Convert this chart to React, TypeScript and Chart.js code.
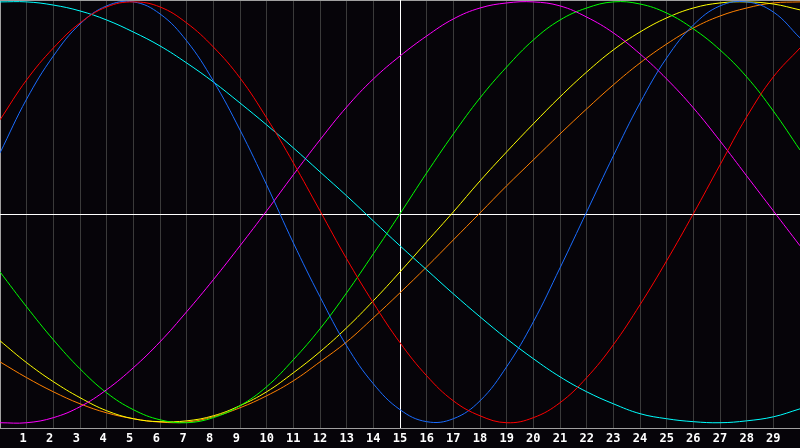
import React, { useEffect, useRef } from "react";
import { Chart, registerables } from "chart.js";

Chart.register(...registerables);

// x positions (0 .. 30)
const xValues = [0, 1, 2, 3, 4, 5, 6, 7, 8, 9, 10, 11, 12, 13, 14, 15, 16, 17, 18, 19, 20, 21, 22, 23, 24, 25, 26, 27, 28, 29, 30];

// tick labels shown under grid lines 1..29
const tickLabels = ["1 ", "2 ", "3 ", "4 ", "5 ", "6 ", "7 ", "8 ", "9 ", "10", "11", "12", "13", "14", "15", "16", "17", "18", "19", "20", "21", "22", "23", "24", "25", "26", "27", "28", "29"];

const redValues = [0.438, 0.628, 0.779, 0.898, 0.974, 0.998, 0.974, 0.898, 0.784, 0.637, 0.447, 0.234, 0.006, -0.222, -0.431, -0.62, -0.777, -0.896, -0.967, -1.0, -0.976, -0.905, -0.786, -0.63, -0.44, -0.231, -0.008, 0.224, 0.452, 0.642, 0.779];
const blueValues = [0.281, 0.537, 0.741, 0.893, 0.979, 0.998, 0.941, 0.813, 0.623, 0.39, 0.129, -0.146, -0.402, -0.635, -0.815, -0.938, -0.995, -0.981, -0.896, -0.734, -0.521, -0.265, 0.001, 0.267, 0.518, 0.732, 0.888, 0.979, 0.998, 0.95, 0.827];
const cyanValues = [0.998, 0.998, 0.983, 0.955, 0.912, 0.855, 0.789, 0.708, 0.618, 0.518, 0.414, 0.305, 0.191, 0.077, -0.042, -0.16, -0.274, -0.388, -0.497, -0.601, -0.696, -0.782, -0.853, -0.91, -0.957, -0.981, -0.995, -1.0, -0.991, -0.972, -0.934];
const magentaValues = [-1.0, -1.0, -0.976, -0.924, -0.843, -0.739, -0.616, -0.473, -0.321, -0.16, 0.006, 0.177, 0.343, 0.499, 0.632, 0.741, 0.836, 0.917, 0.969, 0.993, 0.998, 0.979, 0.926, 0.851, 0.751, 0.632, 0.495, 0.338, 0.172, 0.006, -0.16];
const greenValues = [-0.284, -0.45, -0.606, -0.744, -0.858, -0.938, -0.986, -1.0, -0.976, -0.919, -0.829, -0.701, -0.554, -0.383, -0.198, -0.008, 0.186, 0.371, 0.542, 0.689, 0.817, 0.912, 0.969, 0.998, 0.988, 0.945, 0.87, 0.77, 0.642, 0.48, 0.295];
const yellowValues = [-0.611, -0.715, -0.805, -0.881, -0.943, -0.981, -0.995, -0.991, -0.967, -0.919, -0.853, -0.763, -0.663, -0.549, -0.421, -0.284, -0.141, 0.001, 0.148, 0.286, 0.419, 0.547, 0.665, 0.77, 0.855, 0.922, 0.969, 0.993, 0.998, 0.988, 0.96];
const orangeValues = [-0.711, -0.786, -0.853, -0.91, -0.953, -0.981, -0.997, -0.997, -0.972, -0.929, -0.872, -0.801, -0.711, -0.616, -0.502, -0.383, -0.26, -0.132, -0.004, 0.125, 0.248, 0.371, 0.49, 0.604, 0.708, 0.798, 0.874, 0.931, 0.969, 0.993, 0.998];

const seriesList = [
  { name: "red", values: redValues, color: "#ff0000" },
  { name: "blue", values: blueValues, color: "#1a6cff" },
  { name: "cyan", values: cyanValues, color: "#00ffff" },
  { name: "magenta", values: magentaValues, color: "#ff00ff" },
  { name: "green", values: greenValues, color: "#00ff00" },
  { name: "yellow", values: yellowValues, color: "#ffff00" },
  { name: "orange", values: orangeValues, color: "#ff8000" },
];

const BG = "#060409";

const framePlugin = {
  id: "frame",
  beforeDraw(chart: any) {
    const ctx = chart.ctx;
    ctx.save();
    ctx.fillStyle = BG;
    ctx.fillRect(0, 0, chart.width, chart.height);
    ctx.restore();
  },
  beforeDatasetsDraw(chart: any) {
    const { ctx, chartArea, scales } = chart;
    const { left, right, top, bottom } = chartArea;
    ctx.save();
    // gray frame: left, top, bottom
    ctx.fillStyle = "#a0a0a0";
    ctx.fillRect(left, top, 1, bottom - top);
    ctx.fillRect(left, top, right - left, 1);
    ctx.fillRect(left, bottom, right - left, 1);
    // white cross
    ctx.fillStyle = "#ffffff";
    const xc = Math.round(scales.x.getPixelForValue(15));
    ctx.fillRect(xc, top, 1, bottom - top);
    const yc = Math.round((top + bottom) / 2);
    ctx.fillRect(left, yc, right - left, 1);
    ctx.restore();
  },
};

export default function App() {
  const ref = useRef<HTMLCanvasElement | null>(null);
  useEffect(() => {
    document.body.style.margin = "0";
    document.body.style.background = BG;
    const canvas = ref.current;
    if (!canvas) return;
    const chart = new Chart(canvas, {
      type: "line",
      data: {
        datasets: seriesList.map((s) => ({
          label: s.name,
          data: xValues.map((x, i) => ({ x, y: s.values[i] })),
          borderColor: s.color,
          backgroundColor: s.color,
          borderWidth: 1,
          pointRadius: 0,
          fill: false,
          tension: 0.4,
        })),
      },
      options: {
        animation: false,
        responsive: false,
        devicePixelRatio: 1,
        layout: { padding: 0, autoPadding: false },
        plugins: { legend: { display: false }, tooltip: { enabled: false } },
        scales: {
          x: {
            type: "linear",
            min: 0,
            max: 30,
            afterFit: (scale: any) => {
              scale.height = 20;
              scale.paddingLeft = 0;
              scale.paddingRight = 0;
            },
            ticks: {
              stepSize: 1,
              autoSkip: false,
              maxRotation: 0,
              padding: 4,
              color: "#ffffff",
              font: { family: "'DejaVu Sans Mono'", size: 12, weight: "bold" },
              callback: (v: any) => {
                const n = Number(v);
                return n >= 1 && n <= 29 ? tickLabels[n - 1] : "";
              },
            },
            grid: {
              drawTicks: false,
              color: (c: any) => {
                const v = c.tick ? c.tick.value : -1;
                return v === 0 || v === 15 || v === 30 ? "rgba(0,0,0,0)" : "#3a3a3a";
              },
              lineWidth: 1,
            },
            border: { display: false },
          },
          y: {
            display: false,
            min: -1.025,
            max: 1.007,
          },
        },
      },
      plugins: [framePlugin],
    });
    return () => chart.destroy();
  }, []);
  return (
    <div style={{ position: "absolute", left: 0, top: 0, width: 800, height: 448, background: BG }}>
      <canvas ref={ref} width={800} height={448} style={{ display: "block", width: 800, height: 448 }} />
    </div>
  );
}
